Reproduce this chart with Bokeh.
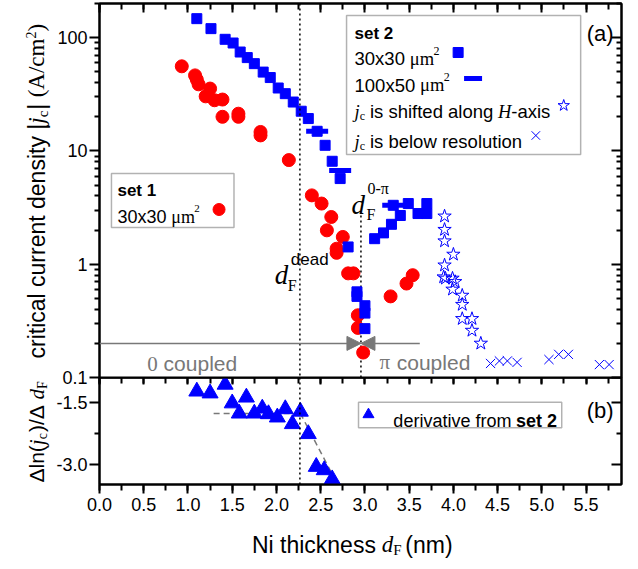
import math
from bokeh.plotting import figure
from bokeh.models import (Range1d, LinearAxis, LogAxis, FixedTicker, SingleIntervalTicker,
                          PrintfTickFormatter, CustomJSTickFormatter, Label, BoxAnnotation,
                          Arrow, NormalHead, Span)
from bokeh.layouts import column, row
from bokeh.embed import file_html
from bokeh.resources import INLINE

# ---------------- data ----------------
# set 1, 30x30 um^2 (red circles)
set1_x = [0.93, 1.08, 1.10, 1.12, 1.25, 1.20, 1.30, 1.39, 1.39, 1.57, 1.57, 1.82, 1.82,
          2.14, 2.40, 2.51, 2.62, 2.57, 2.75, 2.68, 2.68, 2.81, 2.87, 2.92, 2.92, 2.98,
          3.29, 3.47, 3.54]
set1_y = [55.8, 46.4, 42.6, 38.7, 35.5, 30.3, 28.0, 28.4, 20.0, 21.3, 20.0, 14.7, 13.7,
          8.3, 4.05, 3.43, 2.61, 1.99, 1.74, 1.37, 1.26, 0.83, 0.83, 0.354, 0.274, 0.166,
          0.52, 0.675, 0.80]
# set 2, 30x30 um^2 (blue squares)
set2_sq_x = [1.10, 1.26, 1.42, 1.51, 1.59, 1.67, 1.75, 1.85, 1.93, 2.02, 2.10, 2.19, 2.28,
             2.36, 2.46, 2.55, 2.63, 2.72, 2.81, 2.91, 2.91, 3.00, 3.00, 3.00, 3.11, 3.21,
             3.30, 3.40, 3.32, 3.49, 3.60, 3.70, 3.70]
set2_sq_y = [147, 120, 96.6, 89.6, 74.6, 66.6, 58.9, 49.6, 44.4, 35.9, 32.0, 27.0, 22.4,
             19.3, 14.9, 11.2, 8.1, 5.7, 1.42, 0.57, 0.52, 0.43, 0.37, 0.27, 1.68, 1.89,
             2.25, 2.69, 3.31, 3.43, 2.8, 2.8, 3.43]
# set 2, 100x50 um^2 (blue dashes)
set2_dash_x = [2.46, 2.72, 3.32]
set2_dash_y = [14.9, 6.7, 3.31]
# jc shifted along H-axis (open stars)
shift_x = [3.90, 3.90, 3.90, 4.00, 3.90, 3.89, 3.91, 3.99, 4.02, 3.99, 4.10, 4.10, 4.10,
           4.21, 4.21, 4.31]
shift_y = [2.65, 2.02, 1.60, 1.22, 0.98, 0.77, 0.75, 0.75, 0.70, 0.60, 0.53, 0.44, 0.33,
           0.33, 0.26, 0.20]
# jc below resolution (crosses)
below_x = [4.42, 4.52, 4.61, 4.72, 5.08, 5.19, 5.30, 5.65, 5.76]
below_y = [0.133, 0.140, 0.140, 0.136, 0.144, 0.160, 0.160, 0.130, 0.130]
# panel (b): derivative from set 2
deriv_x = [1.10, 1.25, 1.42, 1.50, 1.66, 1.58, 1.75, 1.84, 1.91, 2.01, 2.10, 2.18, 2.27,
           2.36, 2.45, 2.54, 2.63]
deriv_y = [-1.235, -1.28, -1.07, -1.52, -1.38, -1.765, -1.765, -1.645, -1.78, -1.86, -1.66,
           -2.02, -1.72, -2.26, -3.05, -3.13, -3.35]
fit_flat_x = [1.29, 2.27]
fit_flat_y = [-1.765, -1.765]
fit_steep_x = [2.27, 2.68]
fit_steep_y = [-1.765, -3.43]
# characteristic thicknesses
d_dead = 2.265
d_0pi = 2.955
d_0pi_top = 2.8
coupling_level = 0.2
pi_arrow_end = 3.62
# axes
x_range = (0.0, 5.9)
ya_range = (0.1, 200.0)
yb_range = (-3.478, -0.9)
ya_ticks = [0.1, 1, 10, 100]
ya_minor = [k * 10.0 ** e for e in range(-1, 3) for k in range(2, 10)]
yb_ticks = [-1.5, -3.0]
yb_minor = [-2.25]

# ---------------- style / layout ----------------
BLUE = "#0000ff"
RED = "#ff0000"
GRAY = "#787878"
SANS = "Liberation Sans"
SERIF = "Liberation Serif"

LABW = 53            # left strip holding the rotated axis titles
W = 577              # width of the panels
LEFT, RIGHT = 44, 9
TOPA, OVER = 3, 10
HA = 377 + OVER      # panel (a) canvas
HB_FRAME, BOTB = 107, 34
HB = HB_FRAME + BOTB
HX = 40              # strip for the x title
XSTRIP_TOP = HA + HB
TOTAL_H = XSTRIP_TOP + HX

FX0 = LABW + LEFT
FX1 = LABW + W - RIGHT
PXNM = (FX1 - FX0) / (x_range[1] - x_range[0])
A_BOT = HA - OVER
A_DEC = (A_BOT - TOPA) / math.log10(ya_range[1] / ya_range[0])
B_TOP = A_BOT
B_PU = HB_FRAME / (yb_range[1] - yb_range[0])


def X(px):
    return x_range[0] + (px - FX0) / PXNM


def YA(py):
    return ya_range[0] * 10 ** ((A_BOT - py) / A_DEC)


def YB(py):
    return yb_range[1] - (py - B_TOP) / B_PU


def PY(py):
    return py


ARIAL = {' ': .278, 'x': .5, 'a': .556, 'b': .556, 'c': .5, 'd': .556, 'e': .556, 'f': .278,
         'g': .556, 'h': .556, 'i': .222, 'k': .5, 'l': .222, 'm': .833, 'n': .556, 'o': .556,
         'p': .556, 'r': .333, 's': .5, 't': .278, 'u': .556, 'v': .5, 'y': .5, 'N': .722,
         'A': .667, 'H': .722, '(': .333, ')': .333, '/': .278, '|': .26, '-': .333,
         'Δ': .668}
TIMES = {' ': .25, 'j': .278, 'd': .5, 'c': .444, 'F': .611, 'H': .722, 'μ': .5, 'm': .778,
         '0': .5, '2': .5, '-': .333, 'π': .55, '(': .333, ')': .333, 'A': .722, '/': .278}


def tw(text, font, size, style):
    table = TIMES if font == SERIF else ARIAL
    w = sum(table.get(ch, .556) for ch in text) * size
    if style == "bold" and font == SANS:
        w *= 1.06
    return w


def put(p, x, y, text, font, size, style="normal", color="black", angle=0.0,
        baseline="alphabetic"):
    p.add_layout(Label(x=x, y=y, text=text, text_font=font, text_font_size=f"{size}px",
                       text_font_style=style, text_color=color, text_align="left",
                       text_baseline=baseline, angle=angle))


def run_h(p, xconv, yconv, x_px, base_py, pieces):
    for piece in pieces:
        text, font, size, style, dy, color = piece[:6]
        extra = piece[6] if len(piece) > 6 else 0
        put(p, xconv(x_px), yconv(base_py + dy), text, font, size, style, color)
        x_px += tw(text, font, size, style) + extra


def run_v(p, mid_px, y_px, pieces):
    for piece in pieces:
        text, font, size, style, dx, color = piece[:6]
        extra = piece[6] if len(piece) > 6 else 0
        put(p, mid_px + dx, y_px, text, font, size, style, color, math.pi / 2, "middle")
        y_px -= tw(text, font, size, style) + extra


def style_axis(ax, tin, tout, mtin, mtout, show=True):
    ax.axis_line_width = 2
    ax.axis_line_color = "black"
    ax.major_tick_line_width = 2
    ax.minor_tick_line_width = 2
    ax.major_tick_line_color = "black"
    ax.minor_tick_line_color = "black"
    ax.major_tick_in, ax.major_tick_out = tin, tout
    ax.minor_tick_in, ax.minor_tick_out = mtin, mtout
    ax.major_label_text_font = SANS
    ax.major_label_text_font_size = "18px"
    ax.major_label_text_color = "black"
    ax.major_label_standoff = 3
    if not show:
        ax.formatter = CustomJSTickFormatter(code="return '';")
        ax.major_label_text_font_size = "1px"
        ax.major_label_standoff = 0


def xticker():
    return SingleIntervalTicker(interval=0.5, num_minor_ticks=2)


def text_strip(width, height, xr, yr, left=0, right=0):
    f = figure(width=width, height=height, x_range=Range1d(*xr), y_range=Range1d(*yr),
               x_axis_location=None, y_axis_location=None, output_backend="svg",
               toolbar_location=None, min_border=0, min_border_left=left,
               min_border_right=right)
    f.xgrid.visible = False
    f.ygrid.visible = False
    f.outline_line_color = None
    return f


# ---------------- panel (a) ----------------
pa = figure(width=W, height=HA, x_range=Range1d(*x_range), y_range=Range1d(*ya_range),
            y_axis_type="log", x_axis_location=None, output_backend="svg",
            toolbar_location=None, min_border_left=LEFT, min_border_right=RIGHT,
            min_border_top=TOPA, min_border_bottom=OVER)
pa.xgrid.visible = False
pa.ygrid.visible = False
pa.outline_line_color = "black"
pa.outline_line_width = 2

ly = pa.yaxis[0]
ly.ticker = FixedTicker(ticks=ya_ticks, minor_ticks=ya_minor)
ly.formatter = CustomJSTickFormatter(code="return (Math.round(tick*1000)/1000).toString();")
style_axis(ly, 0, 10, 0, 5)
ly.major_label_standoff = 2
ry = LogAxis(ticker=FixedTicker(ticks=ya_ticks, minor_ticks=ya_minor))
style_axis(ry, 10, 0, 5, 0, show=False)
pa.add_layout(ry, "right")
ta = LinearAxis(ticker=xticker())
style_axis(ta, 9, 0, 6, 0, show=False)
pa.add_layout(ta, "above")

pa.add_layout(Span(location=d_dead, dimension="height", line_color="black",
                   line_dash="2 3", line_width=1.5))
pa.segment(x0=[d_0pi], y0=[ya_range[0]], x1=[d_0pi], y1=[d_0pi_top], line_color="black",
           line_dash="2 3", line_width=1.5)

# legend boxes (under the marks)
pa.add_layout(BoxAnnotation(left=X(345), right=X(580), top=YA(15), bottom=YA(154),
                            fill_color="white", fill_alpha=1, line_color="black",
                            line_width=1.5, level="underlay"))
pa.add_layout(BoxAnnotation(left=X(109), right=X(232), top=YA(173), bottom=YA(227),
                            fill_color="white", fill_alpha=1, line_color="black",
                            line_width=1.5, level="underlay"))

# data
pa.scatter(set1_x, set1_y, marker="circle", size=13, fill_color=RED, line_color=RED)
pa.scatter(set2_sq_x, set2_sq_y, marker="square", size=10, fill_color=BLUE, line_color=BLUE)
pa.scatter(set2_dash_x, set2_dash_y, marker="dash", size=22, line_color=BLUE, line_width=5)
pa.scatter(shift_x, shift_y, marker="star", size=14, fill_alpha=0, line_color=BLUE,
           line_width=1)
pa.scatter(below_x, below_y, marker="x", size=13, line_color=BLUE, line_width=1)

# coupling arrows
pa.add_layout(Arrow(end=NormalHead(size=14, fill_color=GRAY, line_color=GRAY),
                    x_start=x_range[0], y_start=coupling_level, x_end=d_0pi,
                    y_end=coupling_level, line_color=GRAY, line_width=1.5))
pa.add_layout(Arrow(end=NormalHead(size=14, fill_color=GRAY, line_color=GRAY),
                    x_start=pi_arrow_end, y_start=coupling_level, x_end=d_0pi,
                    y_end=coupling_level, line_color=GRAY, line_width=1.5))
run_h(pa, X, YA, 145, 363, [("0", SERIF, 21, "normal", 0, GRAY),
                            (" ", SANS, 21, "normal", 0, GRAY),
                            ("coupled", SANS, 21, "normal", 0, GRAY)])
run_h(pa, X, YA, 378, 361.5, [("π", SERIF, 21, "normal", 0, GRAY),
                              (" ", SANS, 21, "normal", 0, GRAY),
                              ("coupled", SANS, 21, "normal", 0, GRAY)])

# d_F labels
put(pa, X(273), YA(274), "d", SERIF, 27, "italic")
put(pa, X(289), YA(259), "dead", SANS, 17)
put(pa, X(286), YA(285), "F", SERIF, 16)
put(pa, X(350), YA(204), "d", SERIF, 27, "italic")
put(pa, X(366), YA(188), "0-π", SERIF, 16)
put(pa, X(365), YA(214), "F", SERIF, 16)

put(pa, X(586), YA(33), "(a)", SANS, 22)

# legend set 2
L2 = 18.5
put(pa, X(353), YA(33), "set 2", SANS, 17, "bold")
run_h(pa, X, YA, 353, 58, [("30x30 ", SANS, L2, "normal", 0, "black"),
                           ("μm", SERIF, L2, "normal", 0, "black"),
                           ("2", SERIF, 12, "normal", -8, "black")])
run_h(pa, X, YA, 353, 84.5, [("100x50 ", SANS, L2, "normal", 0, "black"),
                             ("μm", SERIF, L2, "normal", 0, "black"),
                             ("2", SERIF, 12, "normal", -8, "black")])
run_h(pa, X, YA, 353, 111, [("j", SERIF, L2, "italic", 0, "black"),
                            ("c", SERIF, 12, "normal", 4, "black", 5),
                            ("is shifted along ", SANS, L2, "normal", 0, "black", 0),
                            ("H", SERIF, L2, "italic", 0, "black"),
                            ("-axis", SANS, L2, "normal", 0, "black")])
run_h(pa, X, YA, 353, 141, [("j", SERIF, L2, "italic", 0, "black"),
                            ("c", SERIF, 12, "normal", 4, "black", 5),
                            ("is below resolution", SANS, L2, "normal", 0, "black")])
pa.scatter([X(457)], [YA(52)], marker="square", size=10, fill_color=BLUE, line_color=BLUE)
pa.scatter([X(472)], [YA(78)], marker="dash", size=18, line_color=BLUE, line_width=5)
pa.scatter([X(563)], [YA(105)], marker="star", size=12, fill_alpha=0, line_color=BLUE,
           line_width=1)
pa.scatter([X(535)], [YA(135)], marker="x", size=12, line_color=BLUE, line_width=1)

# legend set 1
L1 = 18
put(pa, X(115), YA(190), "set 1", SANS, 17, "bold")
run_h(pa, X, YA, 115, 216, [("30x30 ", SANS, L1, "normal", 0, "black"),
                            ("μm", SERIF, L1, "normal", 0, "black"),
                            ("2", SERIF, 11, "normal", -8, "black")])
pa.scatter([X(217)], [YA(209)], marker="circle", size=12, fill_color=RED, line_color=RED)

# ---------------- panel (b) ----------------
pb = figure(width=W, height=HB, x_range=pa.x_range, y_range=Range1d(*yb_range),
            output_backend="svg", toolbar_location=None, min_border_left=LEFT,
            min_border_right=RIGHT, min_border_top=0, min_border_bottom=BOTB,
            margin=(-OVER, 0, 0, 0))
pb.xgrid.visible = False
pb.ygrid.visible = False
pb.outline_line_color = "black"
pb.outline_line_width = 2
pb.background_fill_alpha = 0
pb.border_fill_alpha = 0

bx = pb.xaxis[0]
bx.ticker = xticker()
bx.formatter = PrintfTickFormatter(format="%.1f")
style_axis(bx, 0, 9, 0, 6)
bx.major_label_standoff = 4
by = pb.yaxis[0]
by.ticker = FixedTicker(ticks=yb_ticks, minor_ticks=yb_minor)
by.formatter = PrintfTickFormatter(format="%.1f")
style_axis(by, 0, 10, 0, 5)
by.major_label_standoff = 2
rb = LinearAxis(ticker=FixedTicker(ticks=yb_ticks, minor_ticks=yb_minor))
style_axis(rb, 10, 0, 5, 0, show=False)
pb.add_layout(rb, "right")
tb = LinearAxis(ticker=xticker())
style_axis(tb, 7, 0, 6, 0, show=False)
pb.add_layout(tb, "above")

pb.add_layout(Span(location=d_dead, dimension="height", line_color="black",
                   line_dash="2 3", line_width=1.5))
pb.add_layout(BoxAnnotation(left=X(357), right=X(561), top=YB(401.7), bottom=YB(427.3),
                            fill_color="white", fill_alpha=1, line_color="black",
                            line_width=1.5, level="underlay"))
pb.line(fit_flat_x, fit_flat_y, line_color=GRAY, line_dash="6 4", line_width=1.5)
pb.line(fit_steep_x, fit_steep_y, line_color=GRAY, line_dash="6 4", line_width=1.5)
pb.scatter(deriv_x, deriv_y, marker="triangle", size=16, fill_color=BLUE, line_color=BLUE)

put(pb, X(586), YB(409.5), "(b)", SANS, 22)
pb.scatter([X(367)], [YB(414)], marker="triangle", size=11, fill_color=BLUE, line_color=BLUE)
run_h(pb, X, YB, 392, 420, [("derivative from ", SANS, 18, "normal", 0, "black"),
                            ("set 2", SANS, 18, "bold", 0, "black")])

# ---------------- axis titles ----------------
lab = text_strip(LABW, TOTAL_H, (0, LABW), (TOTAL_H, 0))
run_v(lab, 36, 358, [("critical current density |", SANS, 23, "normal", 0, "black"),
                     ("j", SERIF, 23, "italic", 0, "black"),
                     ("c", SERIF, 15, "normal", 6, "black", 1),
                     ("| ", SANS, 23, "normal", 0, "black"),
                     ("(A/cm", SERIF, 23, "normal", 0, "black"),
                     ("2", SERIF, 14, "normal", -6, "black"),
                     (")", SERIF, 23, "normal", 0, "black")])
run_v(lab, 36, 482, [("Δln(", SANS, 21, "normal", 0, "black"),
                     ("j", SERIF, 21, "italic", 0, "black"),
                     ("c", SERIF, 14, "normal", 6, "black", 1),
                     (")/Δ ", SANS, 21, "normal", 0, "black"),
                     ("d", SERIF, 21, "italic", 0, "black"),
                     ("F", SERIF, 14, "normal", 6, "black")])

# x title strip: its frame lines up with the panel frames
xlab = text_strip(W, HX, (FX0, FX1), (TOTAL_H, XSTRIP_TOP), LEFT, RIGHT)
run_h(xlab, PY, PY, 250, 554, [("Ni thickness ", SANS, 23, "normal", 0, "black"),
                               ("d", SERIF, 23, "italic", 0, "black"),
                               ("F", SERIF, 15, "normal", 5, "black", 3),
                               (" (nm)", SANS, 23, "normal", 0, "black")])

layout = row(lab, column(pa, pb, xlab, spacing=0), spacing=0)
open("out.html", "w").write(file_html(layout, INLINE))
